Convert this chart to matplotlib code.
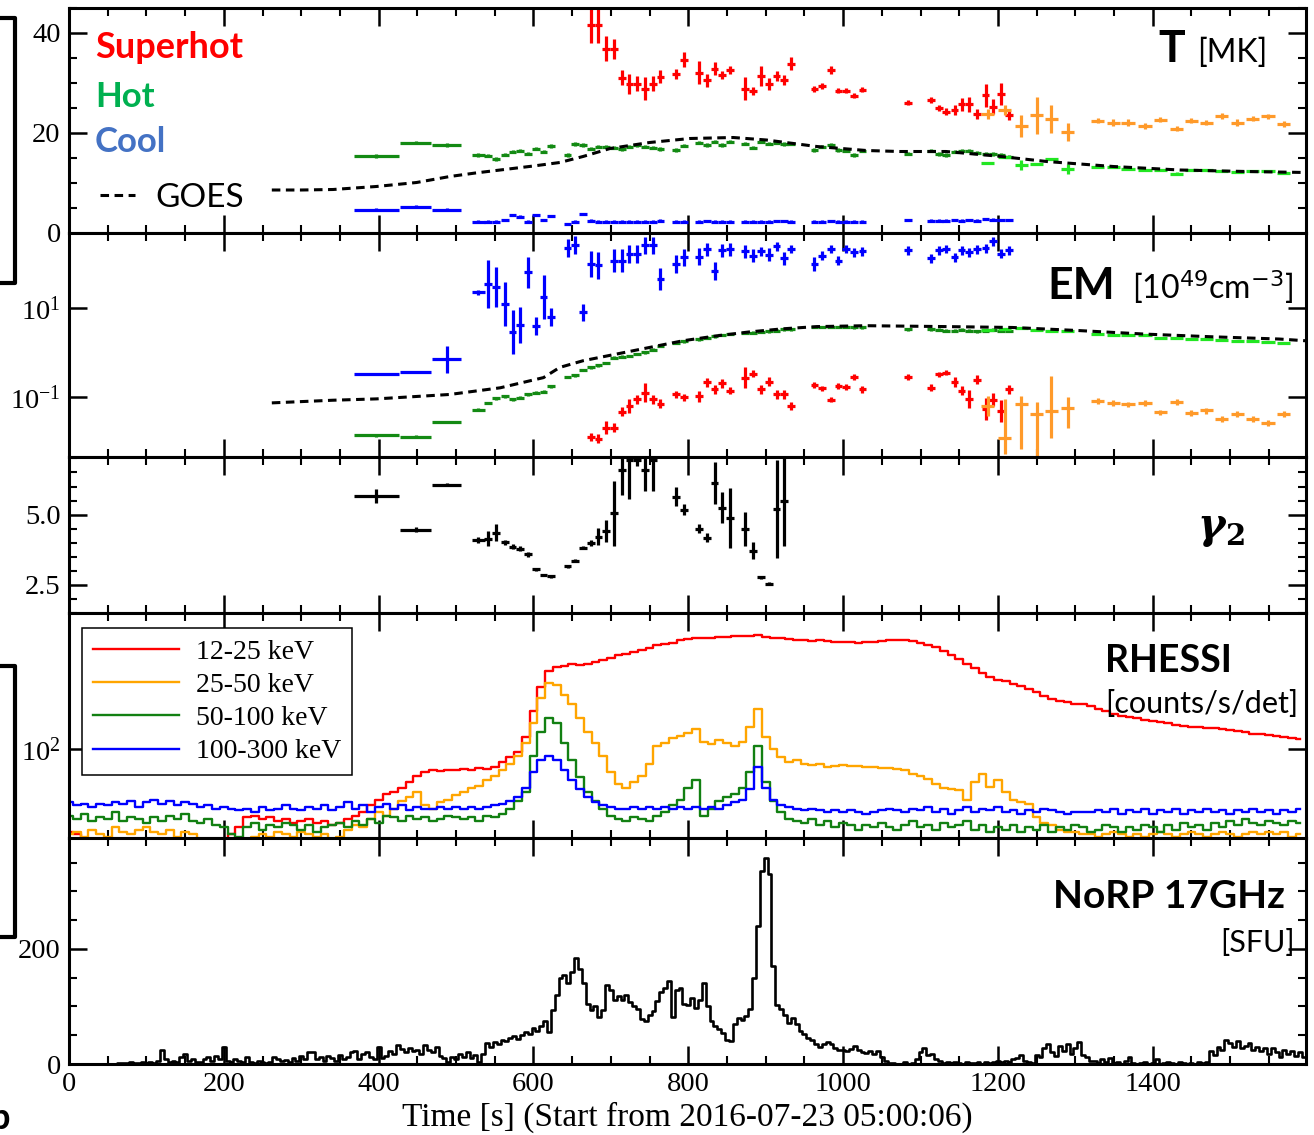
import numpy as np
import matplotlib
matplotlib.use("Agg")
import matplotlib.pyplot as plt
from matplotlib.lines import Line2D
from matplotlib.ticker import MultipleLocator, NullLocator, FormatStrFormatter

plt.rcParams["font.family"] = "Liberation Serif"
plt.rcParams["mathtext.fontset"] = "custom"
plt.rcParams["mathtext.rm"] = "Liberation Serif"
plt.rcParams["mathtext.it"] = "Liberation Serif:italic"
plt.rcParams["mathtext.bf"] = "Liberation Serif:bold"

SANS = "Lato"
nan = np.nan

# ---- multi-thermal fit results (10 s bins, first three are wide) ----
t_fit = [397, 448, 488,
         529, 541, 552, 563, 573, 583, 593, 603, 613, 623,
         644, 654, 664, 674, 684, 694, 704, 714, 724, 734,
         744, 754, 764, 784, 794, 814, 824, 834, 844, 854,
         873, 884, 894, 904, 914, 924, 933,
         963, 973, 984, 994, 1004, 1014, 1025,
         1084, 1114, 1124, 1133, 1144, 1153, 1163, 1173, 1184, 1194, 1204, 1214]
bin_half = [29, 20, 19,
            9, 5, 5, 5, 5, 5, 5, 5, 5, 5,
            5, 5, 5, 5, 5, 5, 5, 5, 5, 5,
            5, 5, 5, 5, 5, 5, 5, 5, 5, 5,
            5, 5, 5, 5, 5, 5, 5,
            5, 5, 5, 5, 5, 5, 5,
            5, 5, 5, 5, 5, 5, 5, 5, 5, 5, 5, 5]

T_hot = [15.4, 18.1, 17.6,
         15.6, 15.5, 14.8, 15.7, 16.3, 16.5, 15.9, 16.9, 16.3, 17.4,
         15.6, 17.8, 17.6, 16.9, 17.3, 17.3, 17.1, 16.8, 17.3, 17.6,
         17.3, 17.1, 16.8, 16.6, 17.5, 18.1, 17.6, 18.3, 17.6, 18.3,
         17.9, 17.1, 18.3, 17.9, 18.1, 17.8, 17.9,
         16.6, 17.3, 17.6, 16.6, 16.5, 15.6, 16.5,
         15.9, 16.5, 15.8, 15.6, 16.3, 16.5, 16.5, 16.1, 15.9, 15.8, 15.6, 15.3]
T_cool = [4.7, 5.3, 4.7,
          2.3, 2.3, 2.3, 2.6, 3.6, 3.3, 2.3, 3.6, 2.6, 3.4,
          1.8, 2.3, 3.8, 2.5, 2.3, 2.3, 2.3, 2.3, 2.3, 2.3,
          2.3, 2.3, 2.5, 2.3, 2.3, 2.3, 2.4, 2.3, 2.3, 2.3,
          2.3, 2.3, 2.3, 2.3, 2.4, 2.4, 2.3,
          2.3, 2.3, 2.4, 2.3, 2.3, 2.3, 2.3,
          2.6, 2.5, 2.5, 2.5, 2.6, 2.5, 2.6, 2.5, 2.8, 2.7, 2.6, 2.6]
T_sh = [nan] * 13 + [
    nan, nan, nan, 41.6, 41.6, 36.9, 36.9, 31.1, 29.9, 29.9,
    28.9, 29.9, 31.3, 31.8, 34.7, 32.1, 30.6, 32.9, 31.6, 32.6,
    28.9, 28.5, 31.5, 29.9, 31.5, 30.7, 33.9,
    28.9, 29.4, 32.7, 28.5, 28.5, 27.5, 28.7,
    26.1, 26.6, 25.1, 24.3, 24.6, 25.8, 25.8, 23.9, 27.6, 25.3, 27.8, 23.6]
T_sh_err = [nan] * 13 + [
    nan, nan, nan, 3.5, 3.5, 2.5, 2.0, 1.5, 2.0, 1.5,
    2.3, 1.5, 1.3, 1.0, 1.5, 2.2, 1.3, 1.3, 0.8, 0.8,
    2.3, 0.8, 2.0, 1.2, 1.0, 1.0, 1.3,
    0.6, 0.6, 0.8, 0.5, 0.5, 0.5, 0.5,
    0.5, 0.6, 0.6, 0.6, 1.0, 1.3, 1.5, 1.0, 2.3, 1.5, 2.2, 1.0]

# emission measures as log10(EM / 1e49 cm^-3), errors in dex
EM_hot_log = [-1.86, -1.89, -1.56,
              -1.28, -1.13, -1.03, -0.98, -1.05, -1.01, -0.94, -0.90, -0.88, -0.76,
              -0.55, -0.51, -0.39, -0.33, -0.28, -0.23, -0.11, -0.09, -0.07, -0.03,
              0.01, 0.07, 0.15, 0.22, 0.26, 0.30, 0.34, 0.37, 0.40, 0.42,
              0.45, 0.45, 0.47, 0.48, 0.50, 0.53, 0.53,
              0.58, 0.58, 0.59, 0.58, 0.59, 0.57, 0.57,
              0.53, 0.53, 0.52, 0.50, 0.50, 0.52, 0.50, 0.48, 0.50, 0.52, 0.50, 0.50]
EM_cool_log = [-0.47, -0.43, -0.15,
               1.36, 1.55, 1.49, 1.10, 0.47, 0.63, 1.81, 0.61, 1.25, 0.80,
               2.36, 2.43, 0.91, 2.00, 1.97, nan, 2.08, 2.08, 2.23, 2.23,
               2.42, 2.42, 1.66, 2.00, 2.15, 2.17, 2.33, 1.85, 2.31, 2.33,
               2.29, 2.19, 2.29, 2.21, 2.40, 2.13, 2.34,
               2.00, 2.19, 2.34, 2.08, 2.34, 2.27, 2.29,
               2.31, 2.13, 2.31, 2.34, 2.15, 2.31, 2.27, 2.33, 2.36, 2.51, 2.23, 2.31]
EM_cool_err = [0.02, 0.02, 0.3,
               0.05, 0.55, 0.45, 0.5, 0.5, 0.4, 0.35, 0.2, 0.5, 0.2,
               0.2, 0.2, 0.2, 0.3, 0.3, nan, 0.25, 0.25, 0.2, 0.2,
               0.2, 0.2, 0.25, 0.2, 0.2, 0.2, 0.15, 0.2, 0.15, 0.15,
               0.15, 0.15, 0.1, 0.15, 0.1, 0.15, 0.1,
               0.15, 0.1, 0.1, 0.1, 0.1, 0.1, 0.1,
               0.1, 0.1, 0.1, 0.1, 0.1, 0.1, 0.1, 0.1, 0.1, 0.1, 0.1, 0.1]
EM_sh_log = [nan] * 13 + [
    nan, nan, nan, -1.90, -1.94, -1.69, -1.69, -1.33, -1.20, -1.05,
    -0.90, -1.05, -1.15, -0.94, -1.00, -0.98, -0.67, -0.82, -0.69, -0.86,
    -0.56, -0.47, -0.82, -0.65, -0.94, -0.94, -1.20,
    -0.73, -0.80, -1.06, -0.75, -0.77, -0.55, -0.82,
    -0.55, -0.79, -0.49, -0.45, -0.66, -0.86, -1.05, -0.61, -1.26, -1.06, -1.31, -0.82]
EM_sh_err = [nan] * 13 + [
    nan, nan, nan, 0.1, 0.1, 0.15, 0.1, 0.1, 0.15, 0.1,
    0.22, 0.1, 0.1, 0.08, 0.08, 0.12, 0.1, 0.1, 0.1, 0.08,
    0.23, 0.08, 0.1, 0.1, 0.1, 0.1, 0.1,
    0.06, 0.06, 0.06, 0.06, 0.06, 0.06, 0.08,
    0.06, 0.08, 0.06, 0.06, 0.12, 0.1, 0.2, 0.1, 0.25, 0.15, 0.25, 0.1]

gamma2 = [5.67, 4.47, 6.06,
          4.10, 4.15, 4.35, 4.01, 3.86, 3.79, 3.59, 3.06, 2.85, 2.80,
          3.16, 3.36, 3.83, 3.98, 4.21, 4.41, 5.04, 6.60, 6.94, 6.94,
          6.58, 6.94, nan, 5.64, 5.18, 4.50, 4.18, 6.12, 5.24, 4.88,
          4.50, 3.71, 2.77, 2.54, 5.20, 5.50, nan] + [nan] * 19
gamma2_err = [0.24, 0.08, 0.05,
              0.1, 0.25, 0.3, 0.08, 0.08, 0.08, 0.08, 0.05, 0.05, 0.05,
              0.05, 0.05, 0.05, 0.1, 0.3, 0.4, 1.15, 0.9, 1.4, 0.2,
              0.75, 1.1, nan, 0.35, 0.2, 0.15, 0.15, 0.75, 0.55, 1.05,
              0.6, 0.3, 0.05, 0.05, 1.75, 1.6, nan] + [nan] * 19

# ---- decay-phase two-component fits ----
t_late = [1187, 1209, 1230, 1250, 1269, 1290, 1329, 1349, 1368, 1390,
          1410, 1431, 1450, 1469, 1489, 1509, 1529, 1549, 1569]
late_half = [8.5] * 19
T_warm = [23.9, 24.6, 21.4, 23.6, 22.9, 20.3, 22.5, 22.1, 22.1, 21.4,
          22.7, 20.9, 22.5, 22.1, 23.4, 22.1, 22.9, 23.4, 21.8]
T_warm_err = [1.0, 1.0, 2.2, 3.7, 2.8, 1.8, 0.5, 0.6, 0.6, 0.6,
              0.5, 0.5, 0.5, 0.5, 0.6, 0.6, 0.5, 0.5, 0.6]
T_lime = [14.1, 15.3, 13.6, 13.9, 14.9, 12.9, 13.3, 13.2, 12.9, 12.6,
          12.7, 11.9, 12.6, 12.6, 12.5, 12.3, 12.4, 12.5, 12.1]
T_lime_err = [0.2, 0.2, 1.0, 0.2, 0.2, 1.0, 0.2, 0.2, 0.2, 0.2,
              0.2, 0.3, 0.2, 0.2, 0.2, 0.2, 0.2, 0.2, 0.2]
EM_warm_log = [-1.20, -1.92, -1.16, -1.37, -1.31, -1.24, -1.09, -1.13, -1.16, -1.13,
               -1.34, -1.11, -1.36, -1.30, -1.49, -1.37, -1.49, -1.58, -1.37]
EM_warm_lo = [0.23, 0.37, 1.02, 0.96, 0.61, 0.46, 0.07, 0.07, 0.07, 0.07,
              0.07, 0.07, 0.07, 0.07, 0.07, 0.07, 0.07, 0.07, 0.07]
EM_warm_hi = [0.22, 0.87, 0.18, 0.25, 0.79, 0.24, 0.06, 0.06, 0.06, 0.06,
              0.06, 0.06, 0.06, 0.06, 0.06, 0.06, 0.06, 0.06, 0.06]
EM_lime_log = [0.52, 0.53, 0.55, 0.52, 0.48, 0.50, 0.42, 0.40, 0.40, 0.39,
               0.34, 0.34, 0.32, 0.31, 0.29, 0.27, 0.26, 0.24, 0.22]

# ---- GOES isothermal ----
goes_t_T = [262, 300, 341, 397, 449, 492, 525, 557, 600, 634, 664, 699, 750,
            802, 858, 901, 966, 1030, 1073, 1133, 1198, 1263, 1349, 1435, 1521, 1598]
goes_T = [8.6, 8.6, 8.7, 9.3, 10.1, 11.3, 12.0, 12.6, 13.4, 14.1, 15.3, 16.9, 18.1,
          18.9, 19.1, 18.6, 17.3, 16.5, 16.3, 16.3, 15.4, 14.3, 13.3, 12.6, 12.3, 12.1]
goes_t_EM = [262, 341, 397, 492, 557, 613, 634, 664, 707, 750, 793, 836, 879,
             922, 966, 1030, 1133, 1219, 1305, 1391, 1477, 1563, 1598]
goes_EM_log = [-1.13, -1.07, -1.04, -0.94, -0.79, -0.56, -0.33, -0.18, -0.03, 0.12, 0.27, 0.38, 0.47,
               0.54, 0.59, 0.61, 0.59, 0.57, 0.50, 0.42, 0.36, 0.31, 0.27]

# ---- RHESSI count rates, 10 s bins from t = 0 ----
rh_t = np.arange(0, 1600, 10)
rh_12_25 = [28, 27, 24, 22, 21, 22, 21, 20, 21, 22,
            21, 22, 21, 20, 21, 22, 21, 22, 23, 24,
            25, 27, 30, 35, 36, 34, 35, 33, 34, 32,
            33, 34, 32, 33, 31, 32, 34, 36, 38, 42,
            46, 50, 52, 55, 60, 66, 70, 72, 71, 72,
            72, 73, 72, 75, 74, 76, 82, 88, 95, 120,
            180, 260, 330, 350, 360, 370, 365, 370, 380, 390,
            405, 420, 430, 440, 460, 470, 490, 500, 510, 530,
            540, 545, 550, 550, 555, 560, 565, 565, 570, 575,
            560, 550, 545, 540, 535, 530, 525, 530, 525, 520,
            520, 515, 510, 515, 520, 525, 530, 530, 530, 525,
            505, 495, 475, 450, 420, 400, 370, 345, 320, 300,
            290, 282, 272, 262, 250, 238, 225, 215, 209, 205,
            200, 198, 193, 186, 178, 172, 166, 163, 160, 157,
            154, 152, 148, 145, 143, 141, 140, 139, 137, 135,
            134, 131, 129, 126, 125, 123, 122, 121, 119, 117]
rh_25_50 = [27, 28, 26, 29, 27, 26, 30, 28, 27, 29,
            30, 28, 27, 29, 26, 28, 27, 25, 24, 23,
            22, 22, 23, 24, 26, 27, 26, 28, 27, 26,
            28, 27, 26, 27, 25, 26, 29, 31, 30, 34,
            38, 36, 40, 45, 48, 52, 42, 40, 44, 46,
            49, 52, 55, 57, 62, 66, 72, 80, 90, 110,
            150, 220, 275, 265, 230, 200, 160, 130, 110, 90,
            70, 58, 55, 60, 66, 80, 105, 110, 118, 122,
            128, 135, 112, 108, 115, 110, 105, 112, 140, 185,
            120, 100, 88, 82, 84, 80, 78, 80, 76, 77,
            78, 77, 77, 76, 76, 75, 75, 74, 72, 68,
            66, 63, 58, 55, 54, 53, 46, 60, 68, 56,
            62, 52, 46, 44, 43, 35, 32, 31, 29, 28,
            28, 27, 27, 26, 27, 28, 27, 26, 27, 26,
            27, 28, 27, 26, 27, 28, 27, 26, 27, 28,
            27, 26, 27, 28, 27, 28, 27, 28, 26, 27]
rh_50_100 = [36, 34, 37, 33, 35, 34, 38, 33, 35, 34,
             32, 35, 33, 36, 34, 37, 33, 32, 34, 31,
             30, 27, 26, 30, 32, 29, 31, 30, 32, 31,
             29, 31, 28, 30, 31, 32, 30, 33, 31, 34,
             32, 36, 35, 33, 36, 34, 35, 33, 34, 36,
             35, 34, 35, 33, 36, 35, 37, 40, 45, 52,
             90, 130, 160, 150, 110, 85, 65, 52, 45, 40,
             36, 34, 33, 35, 34, 33, 36, 38, 42, 46,
             55, 62, 36, 40, 45, 48, 50, 55, 70, 105,
             60, 45, 38, 34, 33, 32, 34, 31, 33, 30,
             32, 31, 29, 31, 30, 32, 30, 29, 31, 33,
             30, 31, 29, 32, 30, 31, 33, 29, 31, 28,
             30, 29, 31, 28, 30, 29, 31, 28, 30, 29,
             31, 30, 28, 29, 31, 30, 28, 30, 29, 31,
             30, 28, 31, 29, 32, 30, 31, 29, 32, 30,
             33, 31, 34, 32, 31, 33, 32, 31, 33, 32]
rh_100_300 = [44, 42, 43, 41, 43, 42, 44, 43, 45, 41,
              44, 46, 43, 45, 42, 44, 43, 41, 42, 40,
              41, 40, 39, 40, 38, 41, 39, 40, 42, 40,
              39, 41, 40, 42, 39, 41, 44, 40, 42, 38,
              41, 43, 40, 42, 39, 41, 40, 40, 41, 40,
              41, 40, 41, 40, 41, 42, 43, 45, 48, 55,
              70, 85, 90, 85, 72, 62, 54, 48, 44, 42,
              41, 40, 40, 41, 40, 41, 40, 41, 40, 41,
              40, 41, 40, 41, 40, 42, 44, 46, 54, 76,
              55, 46, 42, 41, 40, 39, 40, 39, 38, 39,
              38, 39, 38, 37, 38, 39, 40, 39, 38, 40,
              39, 41, 38, 40, 37, 39, 41, 38, 40, 39,
              41, 38, 39, 37, 39, 38, 40, 39, 38, 37,
              38, 38, 38, 39, 38, 40, 37, 39, 38, 40,
              37, 39, 38, 40, 37, 39, 38, 40, 38, 39,
              37, 39, 38, 40, 38, 39, 37, 39, 38, 40]
rh_labels = ["12-25 keV", "25-50 keV", "50-100 keV", "100-300 keV"]

# ---- NoRP 17 GHz flux, 5 s bins from t = 0 ----
norp_t = np.arange(0, 1600, 5)
norp_sfu = [0, 0, 0, 0, 0, 0, 0, 0, 0, 0, 0, 0, 0, 1, 2, 1, 3, 2, 1, 4,
            2, 3, 1, 6, 24, 8, 4, 6, 3, 12, 18, 5, 9, 4, 3, 8, 12, 6, 14, 9,
            30, 6, 4, 8, 5, 3, 12, 4, 2, 5, 3, 1, 4, 12, 8, 5, 7, 4, 10, 6,
            14, 9, 20, 21, 8, 12, 6, 14, 10, 5, 15, 8, 12, 20, 22, 9, 18, 21, 12, 8,
            30, 10, 14, 22, 18, 33, 26, 20, 28, 22, 25, 18, 33, 24, 20, 30, 14, 10, 4, 12,
            8, 18, 12, 20, 10, 15, 4, 18, 36, 30, 38, 34, 42, 40, 45, 48, 44, 50, 55, 52,
            62, 58, 66, 74, 55, 94, 120, 149, 155, 140, 160, 184, 165, 140, 105, 94, 100, 82, 94, 138,
            128, 111, 118, 112, 120, 108, 100, 96, 78, 74, 86, 92, 110, 126, 132, 144, 82, 128, 132, 104,
            103, 115, 98, 112, 141, 100, 74, 66, 60, 54, 42, 40, 70, 80, 76, 83, 96, 150, 240, 335,
            358, 330, 170, 103, 96, 85, 71, 80, 70, 57, 52, 45, 42, 35, 30, 34, 39, 34, 28, 25,
            24, 22, 26, 31, 24, 20, 19, 22, 17, 22, 12, 5, 2, 1, 0, 0, 3, 0, 2, 8,
            20, 28, 16, 18, 8, 5, 2, 4, 1, 3, 2, 0, 4, 2, 1, 3, 0, 4, 2, 3,
            5, 3, 6, 4, 8, 10, 16, 6, 4, 2, 16, 12, 28, 34, 20, 14, 31, 22, 34, 18,
            28, 39, 16, 12, 6, 5, 2, 8, 3, 10, 1, 4, 0, 6, 12, 2, 0, 1, 3, 0,
            2, 8, 0, 1, 4, 2, 0, 3, 1, 0, 2, 0, 3, 1, 4, 22, 15, 30, 25, 42,
            37, 30, 40, 28, 32, 37, 25, 30, 22, 28, 18, 28, 20, 12, 25, 18, 22, 14, 20, 13]


def points(ax, t, y, xerr, ylo, yhi, color):
    """Draw cross-shaped error bars, skipping empty bins."""
    t = np.asarray(t, float)
    y = np.asarray(y, float)
    xerr = np.broadcast_to(np.asarray(xerr, float), t.shape)
    ylo = np.broadcast_to(np.asarray(ylo, float), t.shape)
    yhi = np.broadcast_to(np.asarray(yhi, float), t.shape)
    ok = np.isfinite(y)
    ax.errorbar(t[ok], y[ok], xerr=xerr[ok], yerr=[ylo[ok], yhi[ok]],
                fmt="none", ecolor=color, elinewidth=2.3, capsize=0)


def log_points(ax, t, logv, xerr, dlo, dhi, color):
    logv = np.asarray(logv, float)
    dlo = np.broadcast_to(np.asarray(dlo, float), logv.shape)
    dhi = np.broadcast_to(np.asarray(dhi, float), logv.shape)
    v = 10 ** logv
    points(ax, t, v, xerr, v - 10 ** (logv - dlo), 10 ** (logv + dhi) - v, color)


W, H = 1314, 1135
fig = plt.figure(figsize=(W / 100, H / 100), dpi=100)
panel_px = [(8, 233), (233, 457), (457, 613), (613, 838), (838, 1064)]
axes = [fig.add_axes([69 / W, 1 - bot / H, (1306 - 69) / W, (bot - top) / H])
        for top, bot in panel_px]
axT, axEM, axG, axR, axN = axes

RED, GREEN, BLUE = "#ff0000", "#138a13", "#0000ff"
ORANGE, LIME = "#ff9a2a", "#22e622"
dash = (0, (2.8, 1.8))

# T panel
points(axT, t_fit, T_hot, bin_half, 0.35, 0.35, GREEN)
points(axT, t_fit, T_cool, bin_half, 0.25, 0.25, BLUE)
points(axT, t_fit, T_sh, bin_half, T_sh_err, T_sh_err, RED)
points(axT, t_late, T_lime, late_half, T_lime_err, T_lime_err, LIME)
points(axT, t_late, T_warm, late_half, T_warm_err, T_warm_err, ORANGE)
goes_line, = axT.plot(goes_t_T, goes_T, color="k", ls=dash, lw=2.2)
axT.set_ylim(0, 45)
axT.yaxis.set_major_locator(MultipleLocator(20))
axT.yaxis.set_minor_locator(MultipleLocator(5))

# EM panel
axEM.set_yscale("log")
log_points(axEM, t_fit, EM_hot_log, bin_half, 0.03, 0.03, GREEN)
log_points(axEM, t_fit, EM_cool_log, bin_half, EM_cool_err, EM_cool_err, BLUE)
log_points(axEM, t_fit, EM_sh_log, bin_half, EM_sh_err, EM_sh_err, RED)
log_points(axEM, t_late, EM_lime_log, late_half, 0.02, 0.02, LIME)
log_points(axEM, t_late, EM_warm_log, late_half, EM_warm_lo, EM_warm_hi, ORANGE)
axEM.plot(goes_t_EM, 10 ** np.asarray(goes_EM_log), color="k", ls=dash, lw=2.2)
axEM.set_ylim(10 ** -2.35, 10 ** 2.7)
axEM.set_yticks([0.1, 10])
axEM.yaxis.set_minor_locator(NullLocator())

# gamma panel
points(axG, t_fit, gamma2, bin_half, gamma2_err, gamma2_err, "k")
axG.set_ylim(1.5, 7.05)
axG.yaxis.set_major_locator(MultipleLocator(2.5))
axG.yaxis.set_minor_locator(MultipleLocator(0.5))
axG.yaxis.set_major_formatter(FormatStrFormatter("%.1f"))

# RHESSI panel
axR.set_yscale("log")
for vals, col, lab in zip([rh_12_25, rh_25_50, rh_50_100, rh_100_300],
                          ["#ff0000", "#ffa500", "#128012", "#0000ff"], rh_labels):
    axR.step(rh_t, vals, where="mid", color=col, lw=1.7, label=lab)
axR.set_ylim(25.5, 806)
axR.set_yticks([100])
axR.yaxis.set_minor_locator(NullLocator())
leg = axR.legend(loc="upper left", bbox_to_anchor=(0.0105, 0.933), borderaxespad=0,
                 fontsize=20, handlelength=3.1, handletextpad=0.6, labelspacing=0.28,
                 borderpad=0.4, fancybox=False, framealpha=1, edgecolor="k")
leg.get_frame().set_linewidth(1.1)

# NoRP panel
axN.step(norp_t, norp_sfu, where="mid", color="k", lw=1.9)
axN.set_ylim(0, 393)
axN.yaxis.set_major_locator(MultipleLocator(200))
axN.yaxis.set_minor_locator(MultipleLocator(50))
axN.set_xlabel("Time [s] (Start from 2016-07-23 05:00:06)", fontsize=24, labelpad=3)

for ax in axes:
    ax.set_xlim(0, 1598)
    ax.xaxis.set_major_locator(MultipleLocator(200))
    ax.xaxis.set_minor_locator(MultipleLocator(50))
    ax.tick_params(which="both", direction="in", top=True, right=True, labelsize=20.5, pad=6)
    ax.tick_params(which="major", length=13, width=1.8)
    ax.tick_params(which="minor", length=6, width=1.5)
    for s in ax.spines.values():
        s.set_linewidth(2.2)
    if ax is not axN:
        ax.tick_params(labelbottom=False)

# panel annotations
axT.text(0.021, 0.778, "Superhot", color="#ff0000", fontsize=26, fontweight="bold",
         family=SANS, transform=axT.transAxes, va="baseline")
axT.text(0.021, 0.56, "Hot", color="#00b050", fontsize=25, fontweight="bold",
         family=SANS, transform=axT.transAxes, va="baseline")
axT.text(0.021, 0.36, "Cool", color="#4472c4", fontsize=25, fontweight="bold",
         family=SANS, transform=axT.transAxes, va="baseline")
axT.legend([goes_line], ["GOES"], loc="center left", bbox_to_anchor=(0.025, 0.156),
           borderpad=0, borderaxespad=0, handlelength=1.05, handletextpad=0.6,
           frameon=False, prop={"family": SANS, "size": 24})
axT.text(0.902, 0.76, "T", fontsize=32, fontweight="bold", family=SANS,
         transform=axT.transAxes, ha="right", va="baseline")
axT.text(0.912, 0.76, "[MK]", fontsize=23, family=SANS,
         transform=axT.transAxes, ha="left", va="baseline")

axEM.text(0.8456, 0.705, "EM", fontsize=32, fontweight="bold", family=SANS,
          transform=axEM.transAxes, ha="right", va="baseline")
axEM.text(0.859, 0.705, r"[10$^{49}$cm$^{-3}$]", fontsize=23, family=SANS,
          math_fontfamily="dejavusans", transform=axEM.transAxes, ha="left", va="baseline")

axG.text(0.923, 0.56, "\u03b3", fontsize=30, fontweight="bold", fontstyle="italic",
         family="DejaVu Serif", transform=axG.transAxes, ha="center", va="center")
axG.text(0.943, 0.49, "2", fontsize=21, fontweight="bold",
         family="DejaVu Serif", transform=axG.transAxes, ha="center", va="center")

axR.text(0.8375, 0.738, "RHESSI", fontsize=27, fontweight="bold", family=SANS,
         transform=axR.transAxes, ha="left", va="baseline")
axR.text(0.8375, 0.556, "[counts/s/det]", fontsize=22, family=SANS,
         transform=axR.transAxes, ha="left", va="baseline")

axN.text(0.983, 0.69, "NoRP 17GHz", fontsize=28, fontweight="bold", family=SANS,
         transform=axN.transAxes, ha="right", va="baseline")
axN.text(0.991, 0.496, "[SFU]", fontsize=22, family=SANS,
         transform=axN.transAxes, ha="right", va="baseline")

# brackets and panel letter cut off at the left edge of the original figure
for top, bot in [(18, 283), (666, 937)]:
    fig.add_artist(Line2D([0, 15 / W, 15 / W, 0], [1 - top / H, 1 - top / H, 1 - bot / H, 1 - bot / H],
                          transform=fig.transFigure, color="k", lw=3))
fig.text(0.0, 0.0, "b", fontsize=26, fontweight="bold", family=SANS, ha="center", va="bottom")

fig.savefig("out.png", dpi=100)
